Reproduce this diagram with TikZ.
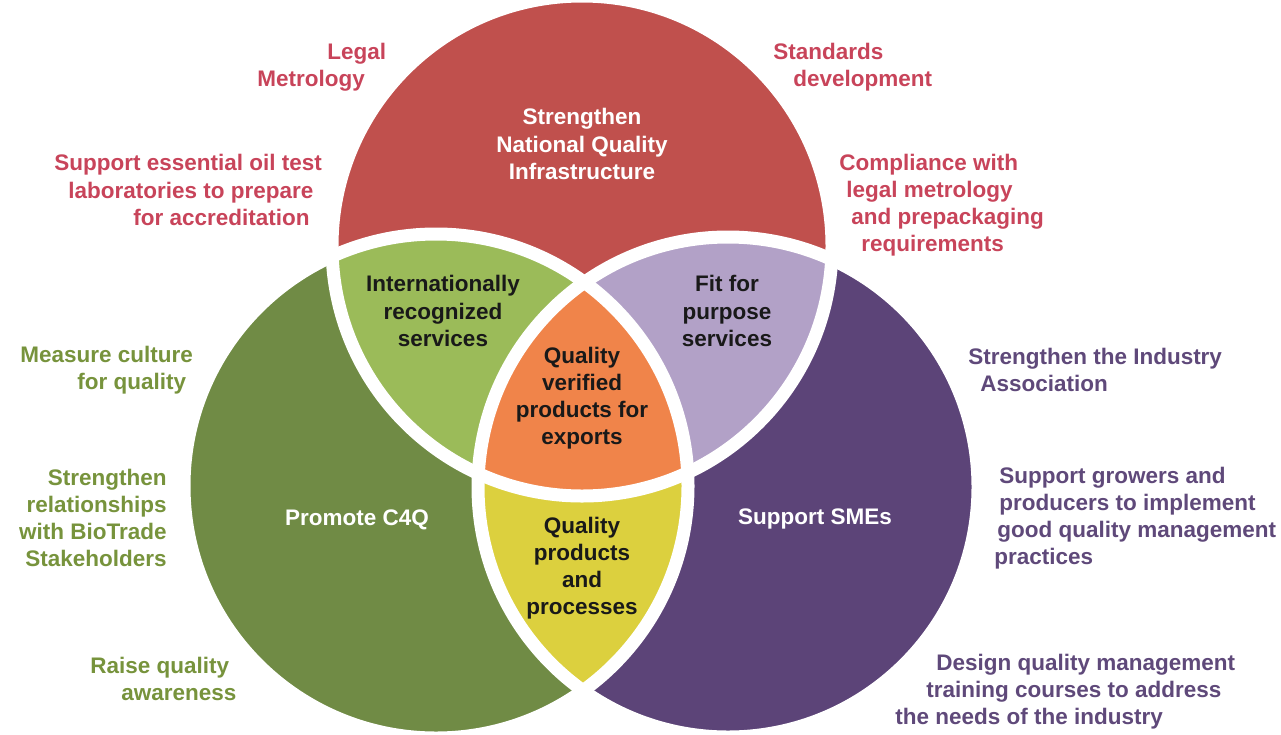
\documentclass[tikz,border=0pt]{standalone}
\usepackage{fontspec}
\setmainfont{Liberation Sans}
\definecolor{nqired}{HTML}{C0504D}
\definecolor{cfqgreen}{HTML}{708B45}
\definecolor{smepurple}{HTML}{5C4478}
\definecolor{intlgreen}{HTML}{9BBB59}
\definecolor{fitlilac}{HTML}{B2A1C7}
\definecolor{procyellow}{HTML}{DCD03E}
\definecolor{exporange}{HTML}{F0844A}
\definecolor{redtext}{HTML}{C8445A}
\definecolor{greentext}{HTML}{77933C}
\definecolor{purpletext}{HTML}{5F497A}
\newlength\pxu
\setlength\pxu{0.02cm}
\newcommand\ind[1]{\hspace*{#1\pxu}}
\tikzset {
    x=0.02cm, y=-0.02cm,
    every node/.style={font=\fontsize{12.8}{15.4}\selectfont\bfseries, inner sep=0pt},
    gap/.style={draw=white, line width=13\pxu},
    inside/.style={align=center, text=white},
    lens/.style={align=center, text=black!90},
    rednote/.style={align=left, anchor=west, text=redtext},
    greennote/.style={align=left, anchor=west, text=greentext},
    purplenote/.style={align=left, anchor=west, text=purpletext}
}

\begin{document}
\begin{tikzpicture}
    \useasboundingbox (0,0) rectangle (1281,734);
    \coordinate (nqi) at (582,246);
    \coordinate (cfq) at (436,486);
    \coordinate (sme) at (728,487);

    % the three circles
    \fill[nqired] (nqi) circle [radius=250];
    \fill[cfqgreen] (cfq) circle [radius=252];
    \fill[smepurple] (sme) circle [radius=250];

    % overlaps
    \begin{scope}
        \clip (nqi) circle [radius=250];
        \fill[intlgreen] (cfq) circle [radius=252];
        \fill[fitlilac] (sme) circle [radius=250];
    \end{scope}
    \begin{scope}
        \clip (cfq) circle [radius=252];
        \fill[procyellow] (sme) circle [radius=250];
        \clip (sme) circle [radius=250];
        \fill[exporange] (nqi) circle [radius=250];
    \end{scope}

    \draw[gap] (nqi) circle [radius=250];
    \draw[gap] (cfq) circle [radius=252];
    \draw[gap] (sme) circle [radius=250];

    % circle labels
    \node[inside] (nqilabel) at (582,144) {Strengthen\\National Quality\\Infrastructure};
    \node[inside] (cfqlabel) at (357,520) {Promote C4Q};
    \node[inside] (smelabel) at (815,519) {Support SMEs};
    \node[lens] (intl) at (443,311) {Internationally\\recognized\\services};
    \node[lens] (fit) at (727,311) {Fit for\\purpose\\services};
    \node[lens] (exports) at (582,398) {Quality\\verified\\products for\\exports};
    \node[lens] (procs) at (582,568) {Quality\\products\\and\\processes};

    % notes round the circles
    \node[rednote] (legal) at (257,67) {\ind{70}Legal\\Metrology};
    \node[rednote] (stds) at (773,67) {Standards\\\ind{20}development};
    \node[rednote] (oil) at (54,190) {Support essential oil test\\\ind{14}laboratories to prepare\\\ind{79}for accreditation};
    \node[rednote] (compl) at (839,205) {Compliance with\\\ind{7}legal metrology\\\ind{12}and prepackaging\\\ind{22}requirements};

    \node[greennote] (culture) at (20,370) {Measure culture\\\ind{57}for quality};
    \node[greennote, align=right, anchor=east] (biotrade) at (167,518) {Strengthen\\relationships\\with BioTrade\\Stakeholders};
    \node[greennote] (aware) at (90,679) {Raise quality\\\ind{31}awareness};

    \node[purplenote] (assoc) at (968,370) {Strengthen the Industry\\\ind{12}Association};
    \node[purplenote] (growers) at (994,518) {\ind{5}Support growers and\\\ind{5}producers to implement\\\ind{3}good quality management\\practices};
    \node[purplenote] (courses) at (895,692) {\ind{41}Design quality management\\\ind{31}training courses to address\\the needs of the industry};
\end{tikzpicture}
\end{document}
